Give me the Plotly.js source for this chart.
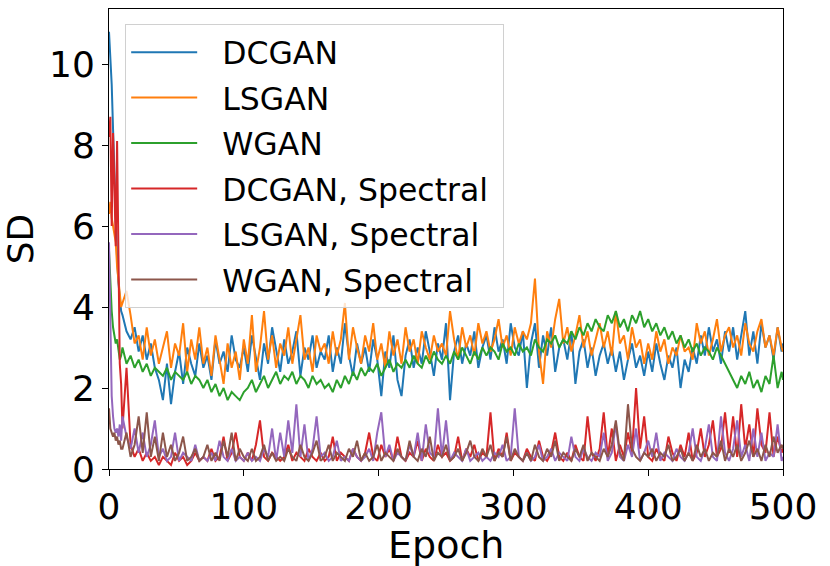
<!DOCTYPE html>
<html>
<head>
<meta charset="utf-8">
<script src="https://cdn.plot.ly/plotly-3.0.1.min.js"></script>
<style>
  html, body { margin: 0; padding: 0; background: #fff; }
  #myDiv { width: 830px; height: 566px; }
</style>
</head>
<body>
<div id="myDiv"></div>
<script>
// epochs: every epoch for 0..9, then every 3rd epoch up to 499, plus 500
var epochs = [0, 1, 2, 3, 4, 5, 6, 7, 8, 9];
for (var e = 10; e <= 499; e += 3) epochs.push(e);
epochs.push(500);

var dcgan = [
  10.8, 10.2, 9.5, 8.4, 7.2, 6.0, 5.2, 4.6, 4.2, 3.9,
  3.8, 3.4, 3.2, 3.5, 2.9, 3.3, 2.7, 3.1, 2.5, 2.2,
  1.7, 2.6, 1.6, 2.4, 2.9, 2.1, 3.0, 2.6, 2.3, 3.1,
  2.5, 2.8, 2.2, 3.2, 2.6, 2.9, 2.4, 3.3, 2.7, 2.5,
  3.0, 2.4, 3.3, 2.7, 2.2, 3.1, 2.6, 3.5, 2.9, 2.4,
  3.2, 2.6, 2.9, 3.4, 2.3, 3.0, 2.7, 3.3, 2.5, 2.9,
  2.7, 3.3, 2.4, 3.0, 2.6, 3.6, 2.8, 2.3, 3.1, 2.6,
  3.0, 2.4, 3.2, 2.7, 1.8, 2.9, 2.5, 3.3, 2.2, 1.8,
  2.8, 3.2, 2.5, 3.0, 2.6, 3.4, 2.9, 2.3, 3.1, 2.7,
  3.6, 1.7, 2.9, 3.3, 2.6, 3.1, 2.8, 3.4, 2.5, 3.0,
  3.3, 2.7, 3.5, 2.9, 3.2, 2.6, 3.6, 3.0, 2.8, 3.4,
  2.0, 3.1, 3.6, 2.5, 3.3, 2.8, 3.5, 2.4, 3.0, 3.2,
  2.7, 3.4, 2.1, 2.9, 3.2, 2.5, 3.0, 2.3, 2.8, 3.1,
  2.6, 3.0, 2.4, 2.9, 2.2, 2.7, 3.1, 2.5, 2.8, 2.3,
  2.9, 2.4, 3.1, 2.6, 2.2, 2.8, 2.5, 3.0, 2.0, 2.7,
  2.4, 3.0, 2.6, 3.3, 2.8, 3.5, 2.9, 3.2, 2.6, 3.4,
  2.9, 3.5, 2.7, 3.3, 3.9, 2.8, 3.4, 2.6, 3.6, 3.0,
  3.3, 2.7, 3.5, 2.9, 3.1
];

var lsgan = [
  6.3, 6.6, 6.2, 6.0, 5.8, 5.6, 5.0, 4.6, 4.3, 4.0,
  4.1, 4.4, 3.8, 3.1, 3.3, 2.7, 3.5, 2.8, 3.2, 2.6,
  3.0, 3.4, 2.5, 3.1, 2.8, 3.6, 2.4, 3.2, 2.7, 3.5,
  2.6, 3.0, 2.3, 3.3, 2.7, 2.1, 3.1, 2.5, 2.9, 2.2,
  3.2, 2.6, 3.8, 2.4, 3.0, 3.9, 2.7, 3.3, 2.5, 3.1,
  2.8, 3.5, 2.6, 3.2, 3.8, 2.7, 3.0, 2.4, 3.3, 2.9,
  3.1, 2.6, 3.4, 2.8, 3.2, 4.1, 2.7, 3.5, 3.0, 2.6,
  3.3, 2.9, 3.6, 2.7, 3.1, 2.5, 3.4, 2.8, 3.2, 2.6,
  3.5, 2.9, 3.2, 2.6, 3.4, 3.0, 2.7, 3.3, 2.9, 3.1,
  2.8, 3.9, 3.2, 2.7, 3.5, 3.0, 3.3, 2.8, 3.6, 3.1,
  3.4, 2.9, 3.2, 3.7, 3.0, 3.3, 2.8, 3.5, 3.1, 3.4,
  3.2, 3.6, 4.7, 2.9, 2.1, 3.4, 3.0, 3.7, 4.2, 3.1,
  3.5, 2.9, 3.3, 3.8, 3.0, 3.4, 2.8, 3.2, 3.6, 3.0,
  3.4, 2.8, 3.9, 3.1, 3.3, 2.7, 3.5, 3.0, 3.2, 2.6,
  3.1, 2.7, 3.4, 2.9, 3.2, 2.6, 3.0, 2.8, 3.3, 2.9,
  3.0, 2.7, 3.6, 3.1, 3.4, 2.8, 3.2, 3.7, 2.9, 3.3,
  3.5, 3.0, 3.3, 2.8, 3.6, 3.1, 2.9, 3.4, 3.7, 3.0,
  3.3, 2.8, 3.5, 3.0, 2.9
];

var wgan = [
  5.4, 4.6, 3.9, 3.5, 3.3, 3.1, 3.2, 2.9, 2.7, 2.8,
  3.0, 2.6, 2.8, 2.5, 2.7, 2.4, 2.6, 2.3, 2.5, 2.4,
  2.3, 2.5, 2.2, 2.4, 2.3, 2.2, 2.4, 2.1, 2.3, 2.2,
  2.0, 2.2, 1.9, 2.1, 1.8, 2.0, 1.7, 1.9, 1.8, 1.7,
  1.9, 2.0, 2.2, 1.9, 2.1, 2.3, 2.0, 2.2, 2.4, 2.1,
  2.3, 2.2, 2.4, 2.1, 2.3, 2.2, 2.0, 2.3, 2.1, 2.2,
  2.0, 2.1, 1.9, 2.2, 2.0, 2.3, 2.1, 2.4, 2.2, 2.5,
  2.3, 2.5, 2.4, 2.6, 2.3, 2.5, 2.7, 2.4, 2.6, 2.5,
  2.7, 2.5, 2.8, 2.6, 2.5, 2.8, 2.6, 2.9, 2.7, 2.6,
  2.8, 2.6, 2.9, 2.7, 3.0, 2.8, 2.6, 2.9, 2.7, 3.0,
  2.8, 3.0, 2.9, 2.7, 3.1, 2.9, 3.0, 2.8, 3.1, 2.9,
  3.0, 2.8, 3.2, 3.0, 2.9, 3.2, 3.1, 3.3, 3.0, 3.2,
  3.1, 3.4, 3.2, 3.5, 3.3, 3.6, 3.4, 3.7, 3.5, 3.4,
  3.8, 3.6, 3.9, 3.5, 3.7, 3.4, 3.8, 3.6, 3.9, 3.5,
  3.7, 3.4, 3.6, 3.3, 3.5, 3.2, 3.4, 3.1, 3.3, 3.0,
  3.2, 2.9, 3.1, 2.8, 3.0, 2.9, 2.7, 3.0, 2.8, 2.6,
  2.4, 2.2, 2.0, 2.3, 2.1, 2.4, 2.0, 2.2, 1.9, 2.3,
  2.1, 2.8, 2.0, 2.4, 2.2
];

var dcganSpectral = [
  8.2, 8.7, 6.0, 8.3, 7.0, 5.5, 8.1, 5.0, 2.6, 2.1,
  1.0, 2.5, 0.6, 0.3, 0.5, 0.2, 0.4, 0.2, 0.3, 0.1,
  0.3, 0.2, 0.1, 0.4, 0.2, 0.3, 0.1, 0.2, 0.4, 0.2,
  0.3, 0.2, 0.5, 0.2, 0.3, 0.8, 0.2, 0.4, 0.9, 0.3,
  0.2, 0.4, 0.2, 0.6, 1.2, 0.3, 0.2, 0.4, 0.3, 0.2,
  0.3, 0.6, 0.2, 0.4, 0.3, 0.2, 0.5, 0.3, 0.2, 0.4,
  0.2, 0.3, 0.8, 0.2, 0.4, 0.3, 0.2, 0.5, 0.3, 0.2,
  0.4, 0.9, 0.3, 0.2, 0.6, 0.3, 0.5, 0.2, 0.8, 0.3,
  0.2, 0.4, 0.3, 0.7, 0.2, 0.5, 0.3, 0.2, 0.6, 0.3,
  0.4, 0.2, 0.3, 0.8, 0.2, 0.5, 0.3, 0.6, 0.2, 0.4,
  0.3, 1.4, 0.2, 0.5, 0.3, 0.9, 0.2, 0.4, 0.3, 0.2,
  0.5, 0.3, 0.2, 0.7, 0.3, 0.2, 0.4, 0.9, 0.3, 0.2,
  0.4, 0.2, 0.6, 0.3, 0.2, 1.3, 0.4, 0.2, 0.5, 1.4,
  0.3, 1.0, 0.2, 0.6, 0.3, 0.9, 0.4, 2.0, 0.5, 1.3,
  0.3, 0.2, 0.5, 0.3, 0.2, 0.8, 0.4, 0.2, 0.6, 0.3,
  0.9, 0.2, 0.4, 1.0, 0.3, 0.6, 1.2, 0.3, 0.5, 1.4,
  0.4, 1.3, 0.3, 1.6, 0.5, 1.1, 0.3, 1.5, 0.6, 0.4,
  1.4, 0.3, 0.8, 0.4, 0.5
];

var lsganSpectral = [
  5.6, 3.2, 1.8, 1.3, 1.0, 0.9, 1.0, 0.8, 1.1, 0.7,
  1.3, 0.8, 0.5, 1.0, 0.4, 0.9, 0.3, 0.6, 1.2, 0.3,
  0.5, 0.2, 0.3, 0.9, 0.2, 0.4, 0.3, 0.2, 0.6, 0.2,
  0.3, 0.2, 0.4, 0.2, 0.7, 0.3, 0.2, 0.5, 0.2, 0.3,
  0.2, 0.4, 0.2, 0.3, 0.2, 0.5, 0.3, 1.0, 0.2, 0.9,
  0.3, 1.2, 0.4, 1.6, 0.3, 1.1, 0.2, 0.5, 1.3, 0.3,
  0.4, 0.2, 0.3, 0.7, 0.2, 0.3, 0.2, 0.5, 0.3, 0.2,
  0.3, 0.5, 0.2, 0.9, 1.4, 0.3, 0.6, 0.2, 0.4, 0.3,
  0.2, 0.6, 0.3, 0.9, 0.2, 1.1, 0.4, 0.3, 1.5, 0.3,
  1.2, 0.2, 0.4, 0.3, 0.2, 0.5, 0.2, 0.3, 0.4, 0.2,
  0.3, 0.2, 0.4, 0.3, 0.6, 0.2, 0.3, 1.5, 0.3, 0.2,
  0.4, 0.2, 0.3, 0.6, 0.2, 0.3, 0.5, 0.2, 0.4, 0.3,
  0.2, 0.8, 0.3, 0.2, 0.5, 0.3, 0.2, 0.4, 0.3, 0.9,
  0.2, 0.4, 1.1, 0.3, 0.2, 0.6, 0.3, 1.0, 0.2, 0.4,
  0.7, 0.3, 0.9, 0.2, 0.4, 0.3, 0.2, 0.5, 0.3, 0.2,
  0.4, 1.0, 0.3, 0.2, 0.5, 1.1, 0.3, 0.2, 1.3, 0.4,
  0.2, 0.5, 1.2, 0.3, 0.6, 0.2, 1.0, 0.3, 0.9, 0.2,
  0.4, 0.3, 1.1, 0.2, 0.3
];

var wganSpectral = [
  1.5, 1.0, 0.9, 0.8, 0.9, 0.7, 0.8, 0.6, 0.7, 0.5,
  0.5, 0.9, 0.3, 0.6, 1.3, 0.4, 1.4, 0.3, 0.8, 0.2,
  0.9, 0.3, 0.6, 0.2, 0.4, 0.8, 0.2, 0.3, 0.5, 0.2,
  0.3, 0.6, 0.2, 0.4, 0.2, 0.7, 0.3, 0.9, 0.2, 0.5,
  0.3, 0.2, 0.5, 0.2, 0.3, 0.6, 0.2, 0.4, 0.2, 0.3,
  0.2, 0.5, 0.3, 0.2, 0.6, 0.3, 0.2, 0.4, 0.7, 0.2,
  0.3, 0.6, 0.2, 0.4, 0.3, 0.2, 0.5, 0.3, 0.7, 0.2,
  0.4, 0.2, 0.3, 0.6, 0.2, 0.4, 0.3, 0.2, 0.5, 0.3,
  0.2, 0.7, 0.3, 0.2, 0.5, 0.3, 0.8, 0.2, 0.4, 0.3,
  0.6, 0.2, 0.3, 0.5, 0.2, 0.4, 0.7, 0.3, 0.2, 0.5,
  0.3, 0.6, 0.2, 0.4, 0.3, 0.8, 0.2, 0.5, 0.3, 0.2,
  0.4, 0.2, 0.6, 0.3, 0.2, 0.5, 0.3, 0.7, 0.2, 0.4,
  0.3, 0.2, 0.5, 0.3, 0.6, 0.2, 0.4, 0.3, 0.2, 0.5,
  0.3, 0.6, 1.2, 0.4, 0.2, 1.6, 0.5, 0.3, 0.2, 0.4,
  0.3, 0.5, 0.2, 0.4, 0.3, 0.6, 0.2, 0.3, 0.5, 0.2,
  0.4, 0.2, 0.6, 0.3, 0.5, 0.2, 0.4, 0.3, 0.7, 0.2,
  0.5, 0.3, 0.6, 0.2, 0.4, 0.7, 0.3, 0.5, 0.2, 0.6,
  0.3, 0.8, 0.4, 0.6, 0.5
];

var names = ['DCGAN', 'LSGAN', 'WGAN', 'DCGAN, Spectral', 'LSGAN, Spectral', 'WGAN, Spectral'];
var series = [dcgan, lsgan, wgan, dcganSpectral, lsganSpectral, wganSpectral];
var colors = ['#1f77b4', '#ff7f0e', '#2ca02c', '#d62728', '#9467bd', '#8c564b'];

var data = series.map(function (ys, i) {
  return {
    x: epochs,
    y: ys,
    mode: 'lines',
    // spaces around the label give the legend the padding of the original
    name: '\u00a0\u00a0' + names[i] + '\u00a0',
    legendgroup: 'g' + i,
    line: { color: colors[i], width: 2 }
  };
});

var font = 'DejaVu Sans, sans-serif';

var layout = {
  width: 830,
  height: 566,
  margin: { l: 109, r: 47, t: 9, b: 97 },
  paper_bgcolor: '#fff',
  plot_bgcolor: '#fff',
  font: { family: font, color: '#000' },
  xaxis: {
    range: [0, 500],
    tickvals: [0, 100, 200, 300, 400, 500],
    ticks: 'outside',
    ticklen: 6,
    tickcolor: '#000',
    tickfont: { size: 36 },
    showgrid: false,
    zeroline: false,
    showline: true,
    linecolor: '#000',
    mirror: true
  },
  yaxis: {
    range: [0, 11.36],
    tickvals: [0, 2, 4, 6, 8, 10],
    ticks: 'outside',
    ticklen: 6,
    tickcolor: '#000',
    tickfont: { size: 36 },
    showgrid: false,
    zeroline: false,
    showline: true,
    linecolor: '#000',
    mirror: true,
    title: { text: 'SD', font: { size: 36 }, standoff: 8 }
  },
  annotations: [{
    text: 'Epoch',
    xref: 'paper', yref: 'paper',
    x: 0.5, y: -0.165,
    xanchor: 'center', yanchor: 'middle',
    showarrow: false,
    borderpad: 0,
    font: { size: 38 }
  }],
  legend: {
    x: 0.024,
    y: 0.967,
    xanchor: 'left',
    yanchor: 'top',
    bgcolor: 'rgba(255,255,255,0.8)',
    bordercolor: '#d0d0d0',
    borderwidth: 1,
    font: { size: 31.5 },
    itemwidth: 66,
    tracegroupgap: 1.5,
    traceorder: 'grouped'
  },
  showlegend: true
};

Plotly.newPlot('myDiv', data, layout, { staticPlot: true });
</script>
</body>
</html>
